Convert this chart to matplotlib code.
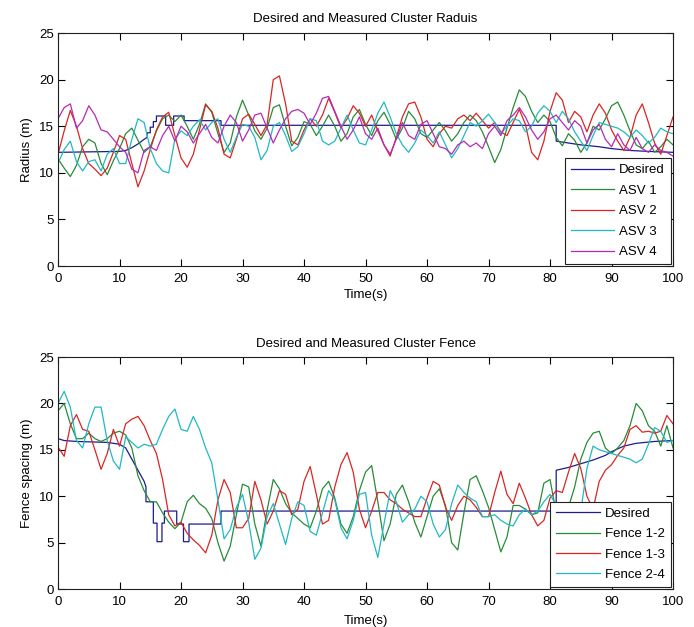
import numpy as np
import matplotlib
matplotlib.use("Agg")
import matplotlib.pyplot as plt

plt.rcParams['font.family'] = ['Liberation Sans', 'DejaVu Sans']

# ---------------- cluster radius data ----------------
t = np.arange(0, 101)

radius_desired_t = [0, 10, 11, 12, 13, 14, 14.5, 14.5, 15, 15, 15.5, 15.5, 16, 16, 17.5, 17.5,
                    18.8, 18.8, 20.5, 20.5, 26.5, 26.5, 81, 81, 83, 85, 88, 90, 93, 96, 100]
radius_desired = [12.2, 12.3, 12.4, 12.7, 13.1, 13.6, 13.8, 14.3, 14.3, 14.9, 14.9, 15.5, 15.5, 16.1,
                  16.1, 15.1, 15.1, 16.1, 16.1, 15.6, 15.6, 15.1, 15.1, 13.4, 13.2, 13.0, 12.8, 12.6,
                  12.4, 12.3, 12.2]

asv1 = [11.5, 10.5, 9.6, 10.8, 12.8, 13.6, 13.2, 11.0, 9.8, 11.3, 12.6, 14.2, 14.8, 13.5, 12.2, 12.8,
        14.5, 15.8, 16.2, 15.5, 16.2, 15.0, 13.6, 15.2, 17.4, 16.5, 14.2, 12.2, 13.2, 16.0, 17.8, 16.2,
        14.5, 13.6, 14.8, 17.0, 17.3, 15.0, 12.9, 13.8, 15.5, 15.2, 14.0, 15.0, 16.2, 15.0, 13.4, 14.2,
        16.0, 16.8, 15.2, 14.0, 15.6, 16.5, 15.2, 13.6, 14.8, 16.6, 15.8, 14.2, 13.8, 14.6, 15.4, 14.5,
        13.4, 14.2, 15.4, 16.2, 15.6, 14.4, 12.8, 11.1, 12.5, 14.8, 17.0, 18.9, 18.2, 16.6, 15.4, 16.2,
        15.5, 13.8, 12.9, 14.2, 13.5, 12.2, 13.2, 15.0, 14.6, 15.8, 17.2, 17.6, 16.2, 14.5, 13.0, 12.6,
        13.4, 12.2, 12.8, 13.6, 13.0]

asv2 = [12.0, 14.5, 16.7, 15.0, 12.6, 11.0, 10.4, 9.7, 10.5, 12.2, 14.0, 13.6, 11.0, 8.5, 10.2, 12.5,
        14.6, 16.0, 16.5, 14.0, 11.6, 10.6, 12.0, 14.6, 17.3, 16.6, 14.8, 12.0, 11.6, 13.6, 15.8, 16.3,
        15.2, 14.0, 15.2, 20.0, 20.4, 17.4, 13.4, 13.0, 14.6, 15.8, 15.0, 16.2, 18.0, 16.5, 14.8, 15.8,
        17.2, 16.4, 15.0, 16.2, 14.5, 13.0, 11.8, 13.8, 16.0, 17.4, 17.6, 16.0, 13.6, 12.8, 14.2, 15.0,
        14.8, 15.8, 16.2, 15.6, 16.4, 15.6, 14.8, 15.4, 14.4, 14.0, 15.4, 16.8, 15.2, 12.2, 11.4, 13.4,
        16.6, 18.6, 17.8, 15.4, 16.6, 16.0, 14.4, 16.2, 17.4, 16.4, 14.6, 13.4, 12.4, 13.8, 16.2, 17.4,
        15.4, 13.2, 12.0, 14.0, 16.0]

asv3 = [11.0, 12.5, 13.4, 11.2, 10.2, 11.2, 11.4, 10.2, 12.0, 12.6, 11.0, 11.0, 13.6, 15.8, 15.4, 12.6,
        11.0, 10.2, 10.0, 13.6, 14.5, 14.0, 15.0, 15.7, 14.6, 15.4, 15.8, 13.6, 12.2, 13.8, 15.2, 15.0,
        13.8, 11.4, 12.4, 15.0, 15.4, 14.0, 12.3, 12.8, 14.2, 15.8, 15.6, 13.4, 13.0, 13.4, 14.8, 16.2,
        14.6, 13.2, 13.0, 14.6, 16.4, 17.6, 16.0, 14.2, 13.0, 12.2, 13.2, 14.6, 14.0, 13.2, 14.4, 13.0,
        11.6, 12.6, 14.0, 15.4, 15.0, 15.6, 16.3, 15.4, 14.2, 15.0, 15.8, 15.6, 14.4, 15.0, 16.4, 17.2,
        16.6, 15.4, 16.6, 15.8, 14.4, 13.4, 12.4, 14.0, 15.4, 15.2, 15.0, 14.8, 14.4, 13.8, 14.6, 14.0,
        13.2, 13.8, 14.8, 14.4, 14.2]

asv4 = [15.8, 17.0, 17.4, 14.8, 15.6, 17.2, 16.2, 14.6, 14.4, 13.6, 12.8, 12.2, 10.4, 10.0, 12.4, 12.8,
        12.4, 14.0, 15.0, 13.4, 15.0, 14.4, 13.2, 14.2, 15.2, 13.8, 13.2, 15.0, 16.2, 15.4, 13.4, 14.6,
        16.2, 16.4, 14.8, 13.2, 14.6, 15.8, 16.6, 16.8, 16.4, 15.2, 16.4, 18.0, 18.2, 16.6, 15.0, 13.6,
        14.6, 16.0, 14.2, 13.6, 14.8, 13.0, 12.0, 13.6, 15.4, 14.0, 13.6, 15.2, 15.6, 14.2, 12.8, 12.6,
        12.0, 13.0, 13.4, 12.8, 13.2, 12.6, 14.2, 15.0, 14.0, 15.6, 16.2, 17.0, 16.0, 14.6, 13.6, 14.4,
        15.8, 16.2, 15.4, 14.6, 15.6, 15.0, 13.2, 14.6, 15.2, 13.6, 12.8, 14.2, 13.0, 12.4, 13.8, 12.6,
        12.2, 13.0, 12.4, 12.2, 11.8]

# ---------------- cluster fence data ----------------
fence_desired_t = [0, 1, 3, 8, 10, 11, 12, 13, 14, 14.3, 14.3, 15.5, 15.5, 16.1, 16.1, 16.9, 16.9,
                   17.3, 17.3, 19.3, 19.3, 20.4, 20.4, 21.3, 21.3, 26.5, 26.5, 81, 81, 83, 85, 87,
                   89, 90, 91, 92, 94, 97, 100]
fence_desired = [16.2, 16.0, 15.9, 15.8, 15.6, 15.2, 14.0, 12.8, 11.6, 11.0, 9.4, 9.4, 7.1, 7.1, 5.1,
                 5.1, 7.1, 7.1, 8.4, 8.4, 7.0, 7.0, 5.1, 5.1, 7.0, 7.0, 8.4, 8.4, 12.8, 13.1, 13.5,
                 13.9, 14.4, 14.8, 15.1, 15.4, 15.7, 15.9, 16.0]

fence12 = [19.2, 20.0, 17.8, 16.2, 16.2, 16.8, 16.2, 15.9, 16.2, 16.8, 17.0, 16.6, 15.2, 12.2, 10.6,
           9.4, 9.4, 8.2, 7.2, 6.5, 7.2, 9.4, 10.1, 9.2, 8.7, 7.6, 5.0, 3.0, 4.6, 8.0, 11.3, 11.0, 7.0,
           4.6, 8.5, 11.8, 10.8, 9.2, 8.2, 7.6, 7.0, 6.6, 8.4, 10.8, 11.6, 9.8, 7.0, 6.0, 7.8, 10.6,
           12.6, 13.3, 9.4, 5.2, 7.0, 10.2, 11.2, 9.4, 7.2, 5.6, 7.8, 10.0, 10.8, 9.0, 5.0, 4.2, 8.2,
           11.8, 12.2, 10.6, 8.8, 6.4, 4.0, 5.6, 9.0, 9.0, 8.6, 8.0, 8.2, 11.4, 11.8, 8.2, 7.0, 8.8,
           11.0, 14.0, 15.8, 16.8, 17.0, 15.2, 14.6, 15.2, 16.0, 17.6, 20.0, 19.2, 17.6, 17.0, 15.4,
           17.6, 15.2]

fence13 = [15.3, 14.3, 17.6, 18.8, 17.2, 17.0, 15.0, 12.9, 14.6, 17.2, 15.4, 17.8, 18.3, 18.6, 17.6,
           16.0, 14.6, 11.8, 8.0, 6.8, 7.2, 6.0, 5.3, 4.7, 3.9, 5.8, 9.6, 11.8, 10.4, 6.6, 6.6, 7.6,
           11.6, 9.6, 7.0, 8.4, 10.6, 10.2, 8.0, 8.6, 11.6, 13.2, 10.2, 7.0, 7.4, 11.0, 13.4, 14.7,
           12.6, 8.6, 6.6, 8.4, 10.4, 10.4, 9.6, 9.2, 8.6, 8.2, 7.8, 7.8, 9.8, 11.6, 11.2, 8.8, 7.4,
           9.0, 10.0, 9.6, 8.8, 7.8, 7.8, 10.4, 12.7, 10.2, 9.2, 11.4, 9.8, 8.0, 6.8, 7.4, 9.8, 10.6,
           10.4, 12.6, 14.6, 13.0, 10.0, 8.6, 11.6, 12.8, 13.4, 14.4, 15.2, 17.2, 17.6, 16.9, 17.0,
           16.8, 17.0, 18.7, 17.8]

fence24 = [20.0, 21.3, 19.6, 16.0, 15.2, 17.8, 19.6, 19.6, 16.0, 13.8, 12.9, 16.4, 15.8, 15.2, 15.6,
           15.4, 15.6, 17.2, 18.6, 19.4, 17.2, 17.0, 18.6, 17.2, 15.2, 13.6, 9.6, 5.4, 6.4, 8.8, 10.2,
           7.2, 3.2, 4.4, 7.8, 9.2, 7.0, 4.8, 7.6, 9.4, 9.0, 6.2, 5.8, 8.2, 10.6, 9.6, 6.6, 5.4, 7.4,
           10.2, 10.4, 5.8, 3.4, 7.0, 10.6, 9.4, 7.2, 8.0, 8.6, 10.0, 9.4, 7.0, 5.6, 6.4, 9.2, 11.2,
           10.4, 9.8, 9.4, 7.8, 7.8, 8.0, 7.4, 7.0, 6.8, 8.0, 8.6, 8.0, 8.4, 9.4, 10.2, 9.0, 8.0, 7.0,
           7.6, 8.4, 13.0, 15.4, 15.0, 14.8, 14.6, 14.4, 14.2, 14.0, 13.6, 14.0, 15.6, 17.4, 17.0,
           15.8, 16.0]

# MATLAB-like colour order
c_desired = '#1c1c8c'
c_green = '#2a8a3a'
c_red = '#d82626'
c_cyan = '#22b8c2'
c_magenta = '#b42ab4'

LW = 0.9
FS = 9.5

fig = plt.figure(figsize=(6.94, 6.27), dpi=100)
ax1 = fig.add_axes([0.0836, 0.5757, 0.8862, 0.3716])
ax2 = fig.add_axes([0.0836, 0.0606, 0.8862, 0.3700])


def style(ax):
    ax.set_xlim(0, 100)
    ax.set_ylim(0, 25)
    ax.set_xticks(np.arange(0, 101, 10))
    ax.set_yticks(np.arange(0, 26, 5))
    ax.tick_params(direction='in', top=True, right=True, length=5, width=0.8,
                   labelsize=FS)
    ax.tick_params(axis='x', pad=5)
    ax.tick_params(axis='y', pad=3)
    for s in ax.spines.values():
        s.set_linewidth(0.8)
        s.set_color('#202020')


def add_legend(ax):
    leg = ax.legend(loc='lower right', fontsize=FS, borderaxespad=0.15, handlelength=3.3,
                    handletextpad=0.4, labelspacing=0.62, borderpad=0.45, fancybox=False,
                    framealpha=1, edgecolor='#202020')
    leg.get_frame().set_linewidth(0.8)


# top: cluster radius
ax1.plot(radius_desired_t, radius_desired, color=c_desired, lw=LW, label='Desired')
ax1.plot(t, asv1, color=c_green, lw=LW, label='ASV 1')
ax1.plot(t, asv2, color=c_red, lw=LW, label='ASV 2')
ax1.plot(t, asv3, color=c_cyan, lw=LW, label='ASV 3')
ax1.plot(t, asv4, color=c_magenta, lw=LW, label='ASV 4')
style(ax1)
ax1.set_title('Desired and Measured Cluster Raduis', fontsize=FS, pad=8)
ax1.set_xlabel('Time(s)', fontsize=FS, labelpad=3)
ax1.set_ylabel('Radius (m)', fontsize=FS, labelpad=4)
add_legend(ax1)

# bottom: cluster fence
ax2.plot(fence_desired_t, fence_desired, color=c_desired, lw=LW, label='Desired')
ax2.plot(t, fence12, color=c_green, lw=LW, label='Fence 1-2')
ax2.plot(t, fence13, color=c_red, lw=LW, label='Fence 1-3')
ax2.plot(t, fence24, color=c_cyan, lw=LW, label='Fence 2-4')
style(ax2)
ax2.set_title('Desired and Measured Cluster Fence', fontsize=FS, pad=7)
ax2.set_xlabel('Time(s)', fontsize=FS, labelpad=5)
ax2.set_ylabel('Fence spacing (m)', fontsize=FS, labelpad=4)
add_legend(ax2)

fig.savefig('out.png', dpi=100, facecolor='white')
